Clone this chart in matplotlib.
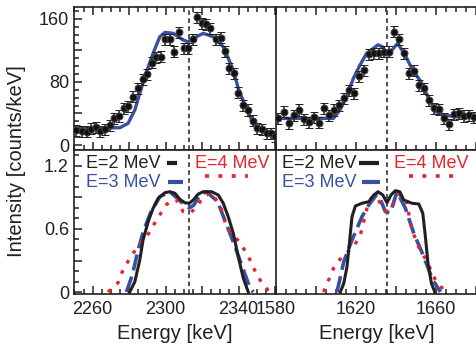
import matplotlib
matplotlib.use('Agg')
import matplotlib.pyplot as plt
from matplotlib.ticker import MultipleLocator

plt.rcParams['font.family'] = ['Liberation Sans', 'DejaVu Sans']

# ---- measured spectra (top panels) ----
tl_energy = [2251.0, 2254.3, 2256.9, 2259.3, 2261.6, 2264.2, 2267.0, 2269.7, 2271.7, 2274.5,
             2277.0, 2279.4, 2282.1, 2284.6, 2287.3, 2289.8, 2292.3, 2294.6, 2297.2, 2299.6,
             2302.3, 2304.7, 2307.4, 2310.0, 2312.4, 2314.8, 2317.3, 2319.7, 2322.1, 2324.3,
             2327.6, 2330.2, 2332.5, 2334.9, 2337.5, 2339.8, 2342.6, 2345.0, 2347.7, 2350.2,
             2352.7, 2355.4, 2357.6, 2360.2]
tl_counts = [19.0, 17.7, 16.9, 20.7, 22.4, 17.7, 19.9, 25.3, 33.8, 36.8,
             46.5, 49.4, 61.2, 71.9, 83.3, 90.0, 104.3, 111.2, 111.9, 134.3,
             134.0, 118.3, 142.8, 122.6, 122.6, 134.0, 161.9, 154.2, 153.4, 147.9,
             134.3, 136.0, 119.1, 97.2, 90.9, 66.3, 50.7, 44.4, 30.8, 21.2,
             19.9, 14.8, 14.8, 11.4]
tl_fit_e = [2250.1, 2274.8, 2279.4, 2283.1, 2285.8, 2289.5, 2293.1, 2296.8, 2299.6, 2304.1,
            2309.6, 2312.2, 2315.1, 2320.6, 2326.1, 2331.6, 2337.1, 2339.8, 2343.5, 2347.2,
            2350.8, 2355.4, 2360.5]
tl_fit_c = [21.9, 21.9, 27.5, 44.4, 65.9, 92.9, 116.2, 137.3, 142.8, 141.6,
            133.1, 130.9, 135.2, 141.6, 137.3, 124.6, 95.1, 71.9, 50.7, 31.7,
            19.0, 14.8, 12.7]

tr_energy = [1581.2, 1583.9, 1586.7, 1589.2, 1591.7, 1594.2, 1596.7, 1599.2, 1601.7, 1604.2,
             1606.7, 1608.9, 1611.7, 1614.2, 1616.7, 1619.2, 1621.7, 1624.2, 1626.7, 1628.9,
             1631.4, 1634.2, 1636.7, 1639.2, 1641.7, 1644.2, 1646.7, 1649.2, 1651.7, 1654.2,
             1656.7, 1659.2, 1661.7, 1664.2, 1666.7, 1669.2, 1671.7, 1674.2, 1676.7, 1679.2]
tr_counts = [33.8, 42.2, 27.5, 38.0, 44.4, 32.6, 28.8, 35.1, 28.3, 46.5,
             38.0, 44.4, 50.7, 59.2, 69.7, 65.5, 87.5, 95.1, 115.0, 116.2,
             116.2, 118.3, 118.3, 143.6, 134.0, 116.2, 90.9, 94.2, 76.0, 71.9,
             57.0, 46.5, 45.2, 33.8, 26.6, 39.3, 40.2, 36.8, 38.0, 35.1]
tr_fit_e = [1580.0, 1608.7, 1612.0, 1615.3, 1618.7, 1622.0, 1625.3, 1628.7, 1631.0, 1633.5,
            1635.5, 1638.0, 1640.8, 1643.0, 1645.0, 1648.3, 1652.5, 1656.7, 1660.0, 1664.2,
            1670.0, 1681.0]
tr_fit_c = [33.8, 33.8, 44.4, 61.2, 84.5, 101.4, 116.2, 122.6, 127.1, 124.2,
            114.1, 120.4, 128.9, 120.4, 111.9, 95.1, 80.2, 57.0, 42.2, 38.0,
            35.9, 35.9]
count_err = 7

# ---- simulated line shapes (bottom panels) ----
bl_e2_e = [2280.3, 2283.1, 2285.8, 2287.6, 2290.4, 2293.1, 2295.9, 2299.6, 2302.3, 2305.1,
           2307.8, 2310.5, 2312.9, 2315.1, 2317.9, 2320.6, 2325.2, 2328.8, 2331.6, 2334.3,
           2337.1, 2339.8, 2342.6, 2345.3]
bl_e2_i = [0, 0.098, 0.305, 0.495, 0.670, 0.797, 0.892, 0.946, 0.955, 0.940,
           0.883, 0.850, 0.845, 0.876, 0.933, 0.955, 0.955, 0.924, 0.845, 0.717,
           0.559, 0.336, 0.130, 0]
bl_e3_e = [2278.5, 2281.7, 2284.9, 2287.6, 2291.7, 2296.8, 2302.3, 2307.4, 2310.2, 2313.0,
           2315.5, 2318.8, 2322.4, 2328.5, 2333.1, 2337.6, 2342.3, 2346.3, 2348.1]
bl_e3_i = [0, 0.162, 0.40, 0.568, 0.755, 0.908, 0.955, 0.876, 0.829, 0.80,
           0.829, 0.924, 0.955, 0.860, 0.654, 0.454, 0.226, 0.035, 0]
bl_e4_e = [2268.4, 2273.9, 2276.6, 2280.3, 2284.9, 2290.8, 2295.0, 2300.5, 2305.6, 2309.6,
           2313.0, 2316.6, 2320.6, 2325.2, 2330.2, 2333.5, 2340.4, 2345.0, 2349.6, 2352.1,
           2356.9]
bl_e4_i = [0, 0.089, 0.21, 0.32, 0.44, 0.56, 0.686, 0.835, 0.883, 0.765,
           0.75, 0.797, 0.908, 0.946, 0.812, 0.607, 0.479, 0.352, 0.178, 0.105,
           0]

br_e2_e = [1612.2, 1613.9, 1615.5, 1616.7, 1618.0, 1619.7, 1623.0, 1626.4, 1628.9, 1631.0,
           1633.4, 1635.5, 1637.5, 1639.7, 1641.9, 1643.9, 1648.0, 1651.4, 1653.4, 1654.7,
           1656.0, 1657.7, 1659.4]
br_e2_i = [0, 0.083, 0.241, 0.464, 0.717, 0.819, 0.845, 0.860, 0.924, 0.955,
           0.924, 0.850, 0.924, 0.965, 0.955, 0.876, 0.845, 0.838, 0.75, 0.527,
           0.273, 0.083, 0]
br_e3_e = [1610.5, 1613.9, 1618.0, 1623.0, 1626.4, 1630.5, 1632.2, 1634.7, 1637.2, 1640.5,
           1644.7, 1648.9, 1653.9, 1658.0, 1662.2]
br_e3_i = [0, 0.289, 0.495, 0.717, 0.829, 0.93, 0.88, 0.765, 0.755, 0.955,
           0.797, 0.559, 0.336, 0.130, 0]
br_e4_e = [1603.8, 1608.8, 1613.0, 1618.8, 1622.2, 1625.5, 1628.0, 1631.3, 1633.8, 1636.3,
           1641.3, 1644.7, 1648.0, 1651.3, 1655.5, 1659.7, 1664.7]
br_e4_i = [0, 0.226, 0.336, 0.431, 0.543, 0.797, 0.908, 0.876, 0.781, 0.765,
           0.924, 0.908, 0.590, 0.431, 0.289, 0.114, 0]

line_centers = [2313.0, 1635.3]
left_ticks = [2260, 2280, 2300, 2320, 2340, 2360]
left_labels = ['2260', '', '2300', '', '2340', '']
right_ticks = [1580, 1600, 1620, 1640, 1660, 1680]
right_labels = ['1580', '', '1620', '', '1660', '']
legend_names = ['E=2 MeV', 'E=3 MeV', 'E=4 MeV']

BLACK = '#231f20'
BLUE = '#3651a3'
RED = '#e5252c'
FS = 13

fig = plt.figure(figsize=(4.76, 3.47), dpi=100)
ax_tl = fig.add_axes([0.1565, 0.5677, 0.4233, 0.4121])
ax_tr = fig.add_axes([0.5798, 0.5677, 0.4244, 0.4121])
ax_bl = fig.add_axes([0.1565, 0.1527, 0.4233, 0.4150])
ax_br = fig.add_axes([0.5798, 0.1527, 0.4244, 0.4150])

for ax in (ax_tl, ax_tr, ax_bl, ax_br):
    for s in ax.spines.values():
        s.set_linewidth(1.2)
        s.set_color(BLACK)
    ax.spines['right'].set_visible(False)
    ax.xaxis.set_minor_locator(MultipleLocator(5))
    ax.tick_params(which='both', direction='in', width=1.1, color=BLACK,
                   labelsize=FS, labelcolor=BLACK)
    ax.tick_params(which='major', length=6)
    ax.tick_params(which='minor', length=3.5)

# top panels
for ax, e, c, fe, fc in ((ax_tl, tl_energy, tl_counts, tl_fit_e, tl_fit_c),
                         (ax_tr, tr_energy, tr_counts, tr_fit_e, tr_fit_c)):
    ax.plot(fe, fc, color=BLUE, lw=2.4, zorder=2)
    ax.errorbar(e, c, yerr=count_err, fmt='o', ms=5, mfc='#111111', mec='#444444',
                mew=0.7, ecolor=BLACK, elinewidth=1.1, capsize=3, capthick=1.1, zorder=3)
    ax.set_ylim(-6.3, 175)
    ax.tick_params(axis='x', which='both', top=True, bottom=True, labelbottom=False)

# bottom panels
for ax, curves in ((ax_bl, [(bl_e2_e, bl_e2_i), (bl_e3_e, bl_e3_i), (bl_e4_e, bl_e4_i)]),
                   (ax_br, [(br_e2_e, br_e2_i), (br_e3_e, br_e3_i), (br_e4_e, br_e4_i)])):
    ax.plot(*curves[0], color=BLACK, lw=2.2, zorder=3)
    ax.plot(*curves[1], color=BLUE, lw=2.6, ls=(0, (4.5, 1.8)), zorder=2)
    ax.plot(*curves[2], color=RED, lw=2.4, ls=(0, (1.1, 2.4)), zorder=2)
    ax.set_ylim(-0.019, 1.352)
    ax.tick_params(axis='x', which='both', top=False, bottom=True, pad=5)
    ax.set_xlabel('Energy [keV]', fontsize=14.5, color=BLACK, labelpad=4)

for ax in (ax_tl, ax_bl):
    ax.set_xlim(2250, 2360.5)
    ax.set_xticks(left_ticks, left_labels)
for ax in (ax_tr, ax_br):
    ax.set_xlim(1580, 1681)
    ax.set_xticks(right_ticks, right_labels)
    ax.tick_params(axis='y', which='both', left=False, labelleft=False)

ax_tl.set_yticks([0, 40, 80, 120, 160], ['0', '', '80', '', '160'])
ax_tl.yaxis.set_minor_locator(MultipleLocator(10))
ax_bl.set_yticks([0, 0.3, 0.6, 0.9, 1.2], ['0', '', '0.6', '', '1.2'])
ax_bl.yaxis.set_minor_locator(MultipleLocator(0.1))
for ax in (ax_tl, ax_bl):
    ax.tick_params(axis='y', pad=4)

for ax, xc in ((ax_tl, line_centers[0]), (ax_bl, line_centers[0]),
               (ax_tr, line_centers[1]), (ax_br, line_centers[1])):
    ax.axvline(xc, color=BLACK, lw=1.1, ls=(0, (3, 2.2)), zorder=1)

# hand-placed legends, as in the original figure
def draw_legend(ax, text_end, black_h, blue_h, red_x, red_h):
    tr = ax.transAxes
    ax.text(text_end, 0.908, legend_names[0], transform=tr, ha='right', va='center',
            fontsize=FS, color=BLACK)
    ax.text(text_end, 0.776, legend_names[1], transform=tr, ha='right', va='center',
            fontsize=FS, color=BLUE)
    ax.text(red_x, 0.908, legend_names[2], transform=tr, ha='left', va='center',
            fontsize=FS, color=RED)
    ax.plot(black_h, [0.908, 0.908], transform=tr, color=BLACK, lw=3,
            solid_capstyle='butt', clip_on=False)
    ax.plot(blue_h, [0.776, 0.776], transform=tr, color=BLUE, lw=3,
            solid_capstyle='butt', clip_on=False)
    ax.plot(red_h, [0.822, 0.822], transform=tr, color=RED, lw=2.6,
            ls=(0, (1.1, 2.6)), clip_on=False)

draw_legend(ax_bl, 0.428, [0.458, 0.510], [0.466, 0.540], 0.598, [0.648, 0.860])
draw_legend(ax_br, 0.401, [0.412, 0.508], [0.426, 0.516], 0.583, [0.657, 0.876])

fig.text(0.034, 0.536, 'Intensity [counts/keV]', rotation=90, ha='center', va='center',
         fontsize=14.5, color=BLACK)

fig.savefig('out.png', dpi=100)
